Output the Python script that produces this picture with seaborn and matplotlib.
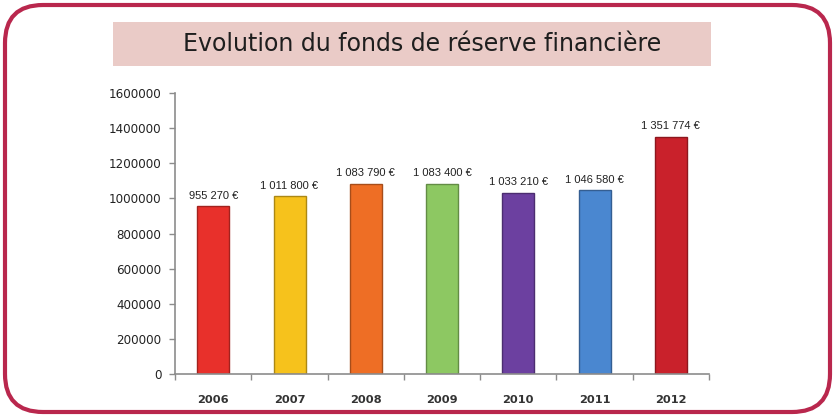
import numpy as np
import pandas as pd
import matplotlib
matplotlib.use("Agg")
import matplotlib.pyplot as plt
import matplotlib.colors as mcolors
from matplotlib.patches import FancyBboxPatch, Rectangle
from matplotlib.ticker import MultipleLocator, FixedLocator
import seaborn as sns

# --- Données ---
annees = ["2006", "2007", "2008", "2009", "2010", "2011", "2012"]
montants = [955270, 1011800, 1083790, 1083400, 1033210, 1046580, 1351774]
etiquettes = ["955 270 €", "1 011 800 €", "1 083 790 €", "1 083 400 €",
              "1 033 210 €", "1 046 580 €", "1 351 774 €"]
couleurs = ["#e8302b", "#f6c21c", "#ee6e25", "#8dc862", "#6c40a0", "#4a87d0", "#c9212b"]
titre = "Evolution du fonds de réserve financière"

df = pd.DataFrame({"annee": annees, "montant": montants})

sns.set_theme(style="white")
plt.rcParams["font.family"] = ["DejaVu Sans"]

fig = plt.figure(figsize=(8.34, 4.17), dpi=100)
fig.patch.set_facecolor("white")

# --- Axe principal ---
ax = fig.add_axes([0.210, 0.103, 0.640, 0.674])
sns.barplot(data=df, x="annee", y="montant", hue="annee", palette=couleurs,
            legend=False, width=0.42, ax=ax, saturation=1)

# léger relief : bord un peu plus sombre que la barre
for patch in ax.patches:
    r, g, b, _ = patch.get_facecolor()
    patch.set_edgecolor((r * 0.7, g * 0.7, b * 0.7))
    patch.set_linewidth(1.0)

ax.set_ylim(0, 1600000)
ax.set_xlim(-0.5, len(annees) - 0.5)
ax.yaxis.set_major_locator(MultipleLocator(200000))
ax.yaxis.set_major_formatter(plt.FuncFormatter(lambda v, p: f"{int(v)}"))
ax.set_xlabel("")
ax.set_ylabel("")

for s in ["top", "right"]:
    ax.spines[s].set_visible(False)
for s in ["left", "bottom"]:
    ax.spines[s].set_color("#8c8c8c")
    ax.spines[s].set_linewidth(1.2)

ax.tick_params(axis="y", left=True, length=4, width=1, color="#8c8c8c",
               labelsize=8.6, labelcolor="#222222", pad=6)
ax.tick_params(axis="x", bottom=False, labelsize=8.2, labelcolor="#333333", pad=9)
for lab in ax.get_xticklabels():
    lab.set_fontweight("bold")
ax.xaxis.set_minor_locator(FixedLocator(np.arange(-0.5, len(annees), 1.0)))
ax.tick_params(axis="x", which="minor", bottom=True, length=4, width=1, color="#8c8c8c")

# étiquettes de valeur au-dessus des barres
for cont, lab in zip(ax.containers, etiquettes):
    ax.bar_label(cont, labels=[lab], padding=4, fontsize=8, color="#222222",
                 family=["Liberation Sans Narrow", "Liberation Sans", "DejaVu Sans"])

# --- Bandeau du titre ---
fig.patches.append(Rectangle((113 / 834, 351 / 417), 598 / 834, 44 / 417,
                             transform=fig.transFigure, facecolor="#eacbc7",
                             edgecolor="none", zorder=0))
fig.text(422 / 834, 373 / 417, titre, ha="center", va="center", fontsize=17,
         color="#1e1e1e", family=["DejaVu Sans"])

# --- Cadre arrondi ---
cadre = fig.add_axes([0, 0, 1, 1], zorder=5)
cadre.set_xlim(0, 834)
cadre.set_ylim(0, 417)
cadre.axis("off")
cadre.patch.set_alpha(0)
cadre.add_patch(FancyBboxPatch((5, 5), 825, 407,
                               boxstyle="round,pad=0,rounding_size=38",
                               facecolor="none", edgecolor="#b9274d", linewidth=3))

fig.savefig("out.png", dpi=100)
